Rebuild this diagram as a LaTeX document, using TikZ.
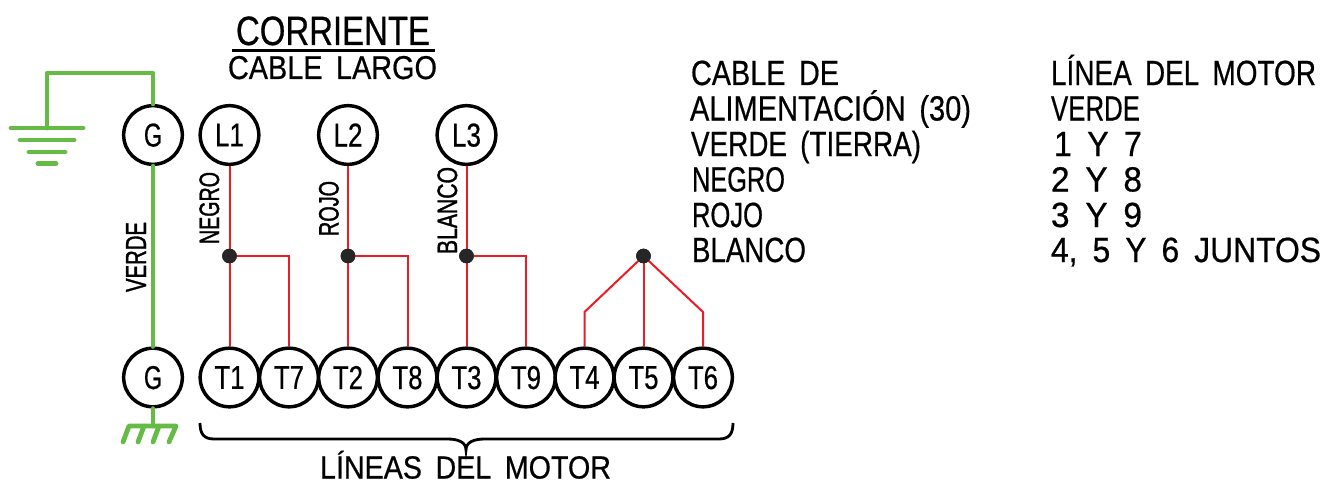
\documentclass[tikz,border=0pt]{standalone}
\usepackage{fontspec}
\usepackage{graphicx}
\setmainfont{Liberation Sans}[WordSpace=1.7,FakeBold=0.6]
\newfontfamily\heavyfont{Liberation Sans}[WordSpace=1.7,FakeBold=1.6]
\definecolor{wgreen}{HTML}{66BB46}
\definecolor{wred}{HTML}{ED1C24}
% #1 width in px, #2 font size in px, #3 text
\newcommand\ft[3]{\raisebox{0pt}[\height][0pt]{\resizebox{#1\dimexpr0.75pt\relax}{\height}{\fontsize{\fpeval{#2*0.75}}{\fpeval{#2*0.8}}\selectfont #3}}}
\tikzset{
  x=0.75pt,y=-0.75pt,
  term/.style={circle,draw=black,line width=2.6pt,minimum size=44pt,inner sep=0pt,fill=white},
  txt/.style={inner sep=0pt,outer sep=0pt,anchor=base west,text=black},
  vtxt/.style={txt,rotate=90,font=\heavyfont},
  redw/.style={draw=wred,line width=1.5pt},
  greenw/.style={draw=wgreen,line width=3.6pt,line cap=round,line join=round},
  junc/.style={circle,fill=black!85,inner sep=0pt,minimum size=11pt,outer sep=0pt}
}
\begin{document}
\begin{tikzpicture}
\useasboundingbox (0,0) rectangle (1325,485);
% terminals
\node[term] (G1) at (153,135) {\ft{18}{33}{G}};
\node[term] (L1) at (229.5,135) {\ft{29}{33}{L1}};
\node[term] (L2) at (348,135) {\ft{29}{33}{L2}};
\node[term] (L3) at (466.5,135) {\ft{29}{33}{L3}};
\node[term] (G2) at (153,377.5) {\ft{18}{33}{G}};
\node[term] (T1) at (229.5,377.5) {\ft{30}{33}{T1}};
\node[term] (T7) at (289,377.5) {\ft{30}{33}{T7}};
\node[term] (T2) at (348,377.5) {\ft{30}{33}{T2}};
\node[term] (T8) at (407.5,377.5) {\ft{30}{33}{T8}};
\node[term] (T3) at (466.5,377.5) {\ft{30}{33}{T3}};
\node[term] (T9) at (526,377.5) {\ft{30}{33}{T9}};
\node[term] (T4) at (584.5,377.5) {\ft{30}{33}{T4}};
\node[term] (T5) at (643.5,377.5) {\ft{30}{33}{T5}};
\node[term] (T6) at (703,377.5) {\ft{30}{33}{T6}};
% junctions
\node[junc] (J1) at (229.5,256) {};
\node[junc] (J2) at (348,256) {};
\node[junc] (J3) at (466.5,256) {};
\node[junc] (J4) at (643.5,256) {};
\coordinate (B4) at (584.5,312);
\coordinate (B6) at (703,312);
% red wires
\draw[redw] (L1) -- (T1);
\draw[redw] (L2) -- (T2);
\draw[redw] (L3) -- (T3);
\draw[redw] (J1) -| (T7);
\draw[redw] (J2) -| (T8);
\draw[redw] (J3) -| (T9);
\draw[redw] (J4) -- (T5);
\draw[redw,line join=round] (J4.center) -- (B4) -- (T4);
\draw[redw,line join=round] (J4.center) -- (B6) -- (T6);
\node[junc] at (J1) {};
\node[junc] at (J2) {};
\node[junc] at (J3) {};
\node[junc] at (J4) {};
% green wires
\coordinate (Gtop) at (47,128);
\coordinate (Gcorner) at (47,73);
\coordinate (Gcorner2) at (153,73);
\draw[greenw] (G1) -- (Gcorner2) -- (Gcorner) -- (Gtop);
\draw[greenw] (G1) -- (G2);
\coordinate (E1a) at (11,128); \coordinate (E1b) at (83,128);
\coordinate (E2a) at (20,140); \coordinate (E2b) at (74,140);
\coordinate (E3a) at (29,152); \coordinate (E3b) at (65,152);
\coordinate (E4a) at (38,163.5); \coordinate (E4b) at (56,163.5);
\draw[greenw] (E1a) -- (E1b);
\draw[greenw] (E2a) -- (E2b);
\draw[greenw] (E3a) -- (E3b);
\draw[greenw] (E4a) -- (E4b);
\coordinate (C0) at (153,426);
\draw[greenw] (G2) -- (C0);
\draw[greenw] (123,442) -- (129,426) -- (176,426) -- (169,442);
\draw[greenw] (144,426) -- (138,442);
\draw[greenw] (159,426) -- (153,442);
% brace
\draw[black,line width=2.1pt,line cap=butt]
  (200,423) .. controls (200,434) and (204,439) .. (214,439)
  -- (447,439) .. controls (458,439) and (466,442) .. (466,450)
  .. controls (466,442) and (474,439) .. (485,439)
  -- (719,439) .. controls (729,439) and (733,434) .. (733,423);
% title
\node[txt] (title) at (236,45) {\ft{194}{41}{CORRIENTE}};
\coordinate (ulA) at (232,50.5); \coordinate (ulB) at (435,50.5);
\draw[black,line width=2.2pt] (ulA) -- (ulB);
\node[txt] (sub) at (228,79) {\ft{209}{33}{CABLE LARGO}};
% rotated
\node[vtxt] (vV) at (146,292) {\ft{70}{29}{VERDE}};
\node[vtxt] (vN) at (219,244) {\ft{72}{28}{NEGRO}};
\node[vtxt] (vR) at (338.5,236) {\ft{55}{28}{ROJO}};
\node[vtxt] (vB) at (457,254) {\ft{87}{28}{BLANCO}};
% bottom
\node[txt] (lin) at (320,478.5) {\ft{291}{32}{LÍNEAS DEL MOTOR}};
% left column
\node[txt] (a1) at (691,85) {\ft{148}{35}{CABLE DE}};
\node[txt] (a2) at (690,120.5) {\ft{281}{35}{ALIMENTACIÓN (30)}};
\node[txt] (a3) at (691,156) {\ft{230}{35}{VERDE (TIERRA)}};
\node[txt] (a4) at (692,191.5) {\ft{93}{35}{NEGRO}};
\node[txt] (a5) at (692,227) {\ft{71}{35}{ROJO}};
\node[txt] (a6) at (692,262) {\ft{114}{35}{BLANCO}};
% right column
\node[txt] (b1) at (1051,85) {\ft{265}{35}{LÍNEA DEL MOTOR}};
\node[txt] (b2) at (1051,120.5) {\ft{89}{35}{VERDE}};
\node[txt] (b3) at (1054,156) {\ft{88}{35}{1 Y 7}};
\node[txt] (b4) at (1051,191.5) {\ft{91}{35}{2 Y 8}};
\node[txt] (b5) at (1051,227) {\ft{91}{35}{3 Y 9}};
\node[txt] (b6) at (1051,262) {\ft{270}{35}{4, 5 Y 6 JUNTOS}};
\end{tikzpicture}
\end{document}
